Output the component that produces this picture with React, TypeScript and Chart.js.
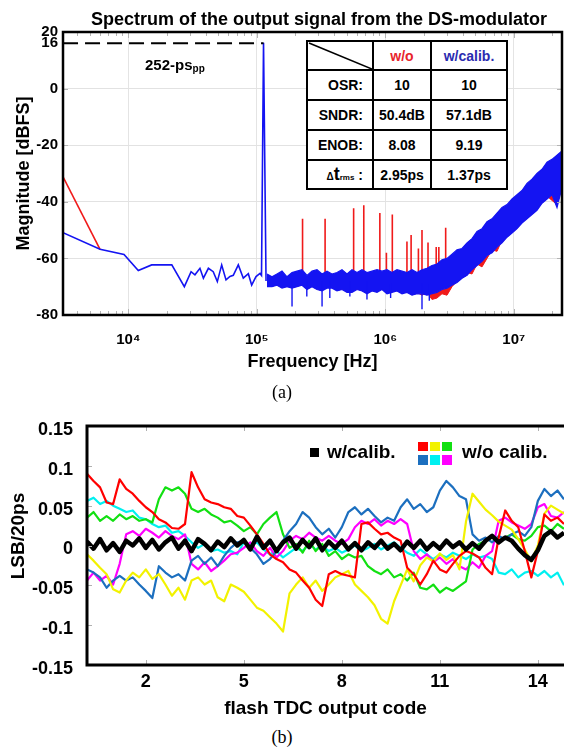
import React, { useEffect, useRef } from 'react';
import { Chart, registerables } from 'chart.js';

Chart.register(...registerables);

const SANS = '"Liberation Sans", Arial, Helvetica, sans-serif';
const SERIF = '"Liberation Serif", "Times New Roman", serif';

// ================= (a) spectrum data =================
const spectrumTitle = 'Spectrum of the output signal from the DS-modulator';
const xTicksTop = [1e4, 1e5, 1e6, 1e7];
const yTicksTop = [-80, -60, -40, -20, 0, 16, 20];
const minorDecades = [1e3, 1e4, 1e5, 1e6, 1e7];

// low-frequency part + fundamental (w/ calib.)
const lowFreq = [3105, 6026, 9260, 11960, 15200, 21800, 27300, 30800, 33000, 36100, 38400, 42000, 45800, 49300, 53300, 57600, 61800, 65600, 71800, 78500, 85900, 91200, 98600, 105900, 108800, 112800, 118000];
const lowBlue = [-50.9, -56.8, -58.6, -64.3, -62.3, -62.3, -70.0, -64.7, -65.8, -63.5, -67.0, -63.5, -64.7, -68.2, -62.3, -67.6, -66.4, -66.0, -62.3, -67.0, -65.4, -69.4, -66.4, -65.3, -66.0, 16.2, -68.0];
// low-frequency part (w/o calib.)
const redLowFreq = [3105, 6026];
const redLowVal = [-31.2, -56.8];

// noise floor band above the fundamental
const bandFreq = [120000, 131300, 143600, 157100, 171800, 187900, 205500, 224800, 245800, 268900,
  294100, 321700, 351800, 384800, 420900, 460300, 503500, 550700, 602400, 658900,
  720600, 788200, 862100, 942500, 1031000, 1127000, 1233000, 1349000, 1475000, 1614000,
  1765000, 1930000, 2111000, 2309000, 2526000, 2762000, 3021000, 3305000, 3614000, 3954000,
  4324000, 4729000, 5172000, 5657000, 6187000, 6767000, 7403000, 8095000, 8854000, 9683000,
  10590000, 11580000, 12670000, 13860000, 15150000, 16580000, 18130000, 19830000, 21690000, 23720000];
const blueHi = [-65.5, -66.5, -65.5, -64.5, -66.5, -65, -64.5, -64, -66, -64.5,
  -64, -65.5, -64.5, -65.5, -65, -64, -65.5, -64, -65, -64,
  -65, -64.5, -64, -64.5, -64, -65, -64, -64.5, -65, -64,
  -65, -64, -63.5, -62.5, -62, -60.5, -60, -58.5, -57, -56.5,
  -54.5, -53, -50.5, -49.5, -47, -46, -44, -42, -41, -39,
  -37.5, -36, -33.5, -32, -30, -28.5, -26, -25, -23.5, -22];
const blueLo = [-70, -70, -69.5, -70.5, -70, -70.5, -70, -69.5, -71, -70,
  -71, -71.5, -70.5, -70.5, -71.5, -71, -72, -72, -71, -71.5,
  -72.5, -71.5, -72, -71, -72.5, -72, -71.5, -72.5, -72, -73,
  -72.5, -72.5, -73, -72.5, -72, -71, -70.5, -69.5, -68.5, -67,
  -66, -64, -62.5, -61, -59, -58, -56, -54.5, -52.5, -51,
  -49.5, -47.5, -46, -44.5, -43, -40.5, -39, -37.5, -42, -35];
const redLo = [-69.5, -69.5, -69, -70, -69.5, -70, -69.5, -69, -70.5, -69.5,
  -70.5, -71, -70, -70, -71, -70.5, -71.5, -71.5, -70.5, -71,
  -72, -71, -71.5, -70.5, -72, -71.5, -71, -72, -71.5, -72.5,
  -72, -73, -72, -74.5, -74, -72.5, -73, -70, -68, -66,
  -65, -65.5, -62, -63, -60, -57, -57.5, -53.5, -51.5, -50,
  -48.5, -46.5, -45, -43.5, -42, -39.5, -38, -39.5, -41, -34];

// isolated downward noise spikes (w/ calib.)
const blueSpikeFreq = [188000, 245000, 322000, 370000, 530000, 720000, 1100000, 1930000, 2200000];
const blueSpikeTop = [-68, -68, -68, -68, -68, -68, -69, -69, -69];
const blueSpikeLow = [-77, -73.5, -77, -74, -73.5, -74.5, -74, -78, -75];

// harmonic spurs (w/o calib.)
const spurFreq = [227000, 340000, 567000, 680000, 907000, 1020000, 1134000, 1474000, 1588000, 1810000, 1930000, 2150000, 2490000, 2610000, 2950000, 3630000, 3970000];
const spurTop = [-46, -46, -42.3, -41.2, -44, -58, -44.5, -54, -51.7, -56.5, -50, -54.4, -56, -56, -49.2, -57, -58];
const spurBase = [-68, -68, -68, -68, -68, -68, -68, -68, -68, -68, -68, -68, -67, -67, -66, -63, -62];

// 252-ps pp marker level
const markerFreq = [3105, 112800];
const markerLevel = 16;

const tableLabels = ['OSR:', 'SNDR:', 'ENOB:'];
const tableWo = ['10', '50.4dB', '8.08', '2.95ps'];
const tableCal = ['10', '57.1dB', '9.19', '1.37ps'];

// ================= (b) TDC nonlinearity data =================
const xTicksBottom = [2, 5, 8, 11, 14];
const yTicksBottom = [-0.15, -0.1, -0.05, 0, 0.05, 0.1, 0.15];
const codes = [0.2, 0.4, 0.6, 0.8, 1.0, 1.2, 1.4, 1.6, 1.8, 2.0,
  2.2, 2.4, 2.6, 2.8, 3.0, 3.2, 3.4, 3.6, 3.8, 4.0,
  4.2, 4.4, 4.6, 4.8, 5.0, 5.2, 5.4, 5.6, 5.8, 6.0,
  6.2, 6.4, 6.6, 6.8, 7.0, 7.2, 7.4, 7.6, 7.8, 8.0,
  8.2, 8.4, 8.6, 8.8, 9.0, 9.2, 9.4, 9.6, 9.8, 10.0,
  10.2, 10.4, 10.6, 10.8, 11.0, 11.2, 11.4, 11.6, 11.8, 12.0,
  12.2, 12.4, 12.6, 12.8, 13.0, 13.2, 13.4, 13.6, 13.8, 14.0,
  14.2, 14.4, 14.6, 14.8];
const wCalib = [0.005, -0.004, 0.008, -0.006, 0.003, -0.008, 0.006, 0.000, 0.009, -0.003,
  0.007, -0.005, 0.004, 0.010, -0.004, 0.006, -0.007, 0.008, 0.002, -0.006,
  0.005, -0.002, 0.009, 0.000, 0.007, -0.005, 0.011, -0.003, 0.006, -0.007,
  0.004, 0.010, -0.004, 0.007, -0.002, 0.009, -0.006, 0.005, -0.003, 0.006,
  -0.005, 0.003, -0.006, 0.004, -0.003, 0.006, -0.004, 0.002, -0.006, 0.005,
  -0.003, 0.006, -0.005, 0.003, -0.004, 0.006, -0.002, 0.004, -0.005, 0.003,
  -0.004, 0.006, 0.012, 0.004, 0.010, 0.006, -0.004, -0.012, -0.018, -0.006,
  0.012, 0.018, 0.010, 0.016];
const woRed = [0.090, 0.081, 0.073, 0.054, 0.052, 0.083, 0.071, 0.065, 0.056, 0.048,
  0.042, 0.033, 0.029, 0.022, 0.021, 0.027, 0.092, 0.073, 0.058, 0.054,
  0.052, 0.048, 0.046, 0.037, 0.035, 0.025, 0.014, 0.002, -0.011, -0.017,
  -0.021, -0.030, -0.034, -0.044, -0.053, -0.068, -0.076, -0.036, -0.032, -0.036,
  -0.038, -0.040, 0.027, 0.029, 0.021, 0.014, 0.016, 0.010, 0.006, -0.028,
  -0.036, -0.049, -0.036, -0.019, -0.030, -0.034, -0.023, -0.013, -0.007, -0.010,
  -0.015, -0.028, -0.036, 0.010, 0.044, 0.031, 0.023, -0.007, -0.040, -0.007,
  0.039, 0.031, 0.035, 0.027];
const woGreen = [0.035, 0.042, 0.031, 0.037, 0.031, 0.039, 0.033, 0.037, 0.031, 0.033,
  0.029, 0.058, 0.073, 0.069, 0.073, 0.065, 0.046, 0.042, 0.046, 0.039,
  0.035, 0.029, 0.031, 0.025, 0.018, 0.023, 0.014, 0.027, 0.035, 0.042,
  0.014, -0.003, 0.002, -0.009, 0.006, -0.007, 0.002, -0.013, -0.007, -0.017,
  -0.011, -0.015, -0.013, -0.026, -0.032, -0.036, -0.030, -0.040, -0.036, -0.044,
  -0.034, -0.053, -0.055, -0.049, -0.059, -0.053, -0.057, -0.051, -0.045, -0.005,
  0.002, 0.006, 0.010, 0.006, 0.010, 0.014, 0.008, 0.006, 0.012, 0.023,
  0.025, 0.018, 0.027, 0.021];
const woCyan = [0.056, 0.060, 0.052, 0.056, 0.050, 0.046, 0.042, 0.044, 0.035, 0.033,
  0.027, 0.023, 0.025, 0.016, 0.018, 0.012, 0.004, -0.003, 0.002, -0.007,
  -0.005, -0.009, -0.007, -0.011, 0.004, 0.000, 0.004, -0.005, -0.011, -0.007,
  -0.015, -0.009, -0.003, -0.007, 0.002, -0.005, 0.000, -0.007, -0.003, -0.009,
  -0.005, 0.000, -0.007, -0.003, 0.002, -0.005, 0.000, 0.004, -0.003, -0.009,
  -0.013, -0.005, -0.011, -0.017, -0.011, -0.015, -0.009, -0.013, -0.017, -0.011,
  -0.015, -0.013, -0.017, -0.034, -0.036, -0.030, -0.040, -0.034, -0.032, -0.038,
  -0.032, -0.040, -0.034, -0.050];
const woMagenta = [-0.044, -0.034, -0.044, -0.038, -0.049, -0.023, 0.014, 0.018, 0.012, 0.021,
  0.016, 0.010, 0.018, 0.012, 0.008, 0.014, -0.023, -0.030, -0.021, -0.032,
  -0.026, -0.019, -0.011, -0.009, -0.003, 0.004, -0.007, -0.013, -0.003, -0.015,
  -0.007, 0.006, 0.012, 0.008, 0.016, 0.010, 0.006, 0.012, 0.006, 0.002,
  0.008, 0.023, 0.031, 0.027, 0.033, 0.025, 0.031, 0.027, 0.033, 0.027,
  -0.007, -0.017, -0.011, -0.021, -0.015, -0.023, -0.017, -0.026, -0.030, -0.021,
  -0.028, -0.013, -0.007, 0.031, 0.035, 0.029, 0.025, 0.021, 0.027, 0.048,
  0.052, 0.037, 0.035, 0.042];
const woBlue = [-0.030, -0.034, -0.040, -0.053, -0.044, -0.038, -0.044, -0.040, -0.049, -0.057,
  -0.066, -0.026, -0.034, -0.040, -0.036, -0.044, -0.019, -0.013, -0.023, -0.015,
  -0.026, -0.013, -0.003, 0.004, 0.006, -0.003, -0.011, -0.023, -0.017, -0.007,
  0.006, 0.018, 0.027, 0.042, 0.035, 0.023, 0.014, 0.021, 0.010, 0.023,
  0.042, 0.048, 0.039, 0.046, 0.037, 0.029, 0.035, 0.031, 0.048, 0.058,
  0.046, 0.052, 0.042, 0.048, 0.069, 0.081, 0.073, 0.062, 0.058, 0.014,
  0.006, 0.010, 0.004, 0.012, 0.008, 0.014, 0.018, 0.012, 0.023, 0.056,
  0.071, 0.062, 0.069, 0.058];
const woYellow = [-0.011, -0.019, -0.028, -0.036, -0.055, -0.059, -0.044, -0.034, -0.040, -0.030,
  -0.042, -0.036, -0.049, -0.063, -0.053, -0.068, -0.044, -0.040, -0.049, -0.044,
  -0.065, -0.070, -0.049, -0.053, -0.058, -0.068, -0.078, -0.082, -0.090, -0.098,
  -0.108, -0.060, -0.049, -0.040, -0.053, -0.044, -0.057, -0.049, -0.040, -0.036,
  -0.032, -0.049, -0.057, -0.065, -0.075, -0.092, -0.098, -0.070, -0.050, -0.030,
  -0.045, -0.025, -0.015, -0.020, -0.010, -0.018, -0.012, -0.030, 0.030, 0.065,
  0.055, 0.045, 0.038, 0.030, 0.025, 0.020, 0.008, -0.005, -0.020, 0.000,
  0.040, 0.050, 0.045, 0.040];

// series styling (index 0 is drawn on top)
const bottomSeries = [
  { label: 'w/calib.', values: wCalib, color: '#000000', width: 4.5 },
  { label: 'w/o calib. #1', values: woRed, color: '#ff0000', width: 2.2 },
  { label: 'w/o calib. #2', values: woYellow, color: '#f2f200', width: 2.2 },
  { label: 'w/o calib. #4', values: woBlue, color: '#1c6fbf', width: 2.2 },
  { label: 'w/o calib. #3', values: woGreen, color: '#12e012', width: 2.2 },
  { label: 'w/o calib. #6', values: woMagenta, color: '#ff00ff', width: 2.2 },
  { label: 'w/o calib. #5', values: woCyan, color: '#00f0f0', width: 2.2 },
];
const legendColors = ['#ff0000', '#f2f200', '#12e012', '#1c6fbf', '#00f0f0', '#ff00ff'];

const SUP = ['\u2070', '\u00b9', '\u00b2', '\u00b3', '\u2074', '\u2075', '\u2076', '\u2077', '\u2078', '\u2079'];
function powLabel(v: number) {
  const e = Math.round(Math.log10(v));
  return '10' + String(e).split('').map((d) => SUP[Number(d)]).join('');
}

const BLUE = '#1414f2';
const RED = '#f01a1a';

const topFrame = {
  id: 'topFrame',
  afterDraw(chart: any) {
    const { ctx, chartArea: a, scales } = chart;
    const x = scales.x;
    const y = scales.y;
    ctx.save();
    ctx.strokeStyle = '#b4b4b4';
    ctx.lineWidth = 1;
    ctx.beginPath();
    minorDecades.forEach((d) => {
      for (let m = 1; m <= 9; m++) {
        const f = d * m;
        if (f < x.min || f > x.max) continue;
        const px = Math.round(x.getPixelForValue(f)) + 0.5;
        const len = m === 1 ? 6 : 4;
        ctx.moveTo(px, a.bottom);
        ctx.lineTo(px, a.bottom - len);
        ctx.moveTo(px, a.top);
        ctx.lineTo(px, a.top + len);
      }
    });
    yTicksTop.forEach((v) => {
      if (v === 16) return;
      const py = Math.round(y.getPixelForValue(v)) + 0.5;
      ctx.moveTo(a.left, py);
      ctx.lineTo(a.left + 5, py);
      ctx.moveTo(a.right, py);
      ctx.lineTo(a.right - 5, py);
    });
    ctx.stroke();
    ctx.strokeStyle = '#000';
    ctx.lineWidth = 2.5;
    ctx.strokeRect(a.left, a.top, a.right - a.left, a.bottom - a.top);
    ctx.restore();
  },
};

const bottomFrame = {
  id: 'bottomFrame',
  afterDraw(chart: any) {
    const { ctx, chartArea: a, scales } = chart;
    const x = scales.x;
    const y = scales.y;
    ctx.save();
    ctx.strokeStyle = '#b0b0b0';
    ctx.lineWidth = 1;
    ctx.beginPath();
    xTicksBottom.forEach((v) => {
      const px = Math.round(x.getPixelForValue(v)) + 0.5;
      ctx.moveTo(px, a.bottom);
      ctx.lineTo(px, a.bottom - 5);
      ctx.moveTo(px, a.top);
      ctx.lineTo(px, a.top + 5);
    });
    yTicksBottom.forEach((v) => {
      const py = Math.round(y.getPixelForValue(v)) + 0.5;
      ctx.moveTo(a.left, py);
      ctx.lineTo(a.left + 5, py);
    });
    ctx.stroke();
    ctx.strokeStyle = '#000';
    ctx.lineWidth = 3;
    ctx.beginPath();
    ctx.moveTo(a.right + 4, a.top);
    ctx.lineTo(a.left, a.top);
    ctx.lineTo(a.left, a.bottom);
    ctx.lineTo(a.right + 4, a.bottom);
    ctx.stroke();
    ctx.restore();
  },
};

function segments(freqs: number[], from: number[], to: number[]) {
  const pts: any[] = [];
  freqs.forEach((f, i) => {
    pts.push({ x: f, y: from[i] }, { x: f, y: to[i] }, { x: f, y: null });
  });
  return pts;
}

function topConfig(): any {
  const line = { pointRadius: 0, tension: 0, fill: false, spanGaps: false };
  return {
    type: 'line',
    data: {
      datasets: [
        { ...line, label: '252-ps pp', data: markerFreq.map((f) => ({ x: f, y: markerLevel })), borderColor: '#000', borderWidth: 2, borderDash: [15, 7] },
        { ...line, label: 'w/calib.', data: lowFreq.map((f, i) => ({ x: f, y: lowBlue[i] })), borderColor: BLUE, borderWidth: 1.6 },
        { ...line, label: 'w/calib. spikes', data: segments(blueSpikeFreq, blueSpikeTop, blueSpikeLow), borderColor: BLUE, borderWidth: 1.4 },
        { ...line, label: 'w/calib. upper', data: bandFreq.map((f, i) => ({ x: f, y: blueHi[i] })), borderColor: BLUE, borderWidth: 1.2 },
        { ...line, label: 'w/calib. lower', data: bandFreq.map((f, i) => ({ x: f, y: blueLo[i] })), borderColor: BLUE, borderWidth: 1.2, backgroundColor: BLUE, fill: '-1' },
        { ...line, label: 'w/o lower', data: bandFreq.map((f, i) => ({ x: f, y: redLo[i] })), borderColor: RED, borderWidth: 1, backgroundColor: RED, fill: '-1' },
        { ...line, label: 'w/o spurs', data: segments(spurFreq, spurBase, spurTop), borderColor: RED, borderWidth: 1.6 },
        { ...line, label: 'w/o', data: redLowFreq.map((f, i) => ({ x: f, y: redLowVal[i] })), borderColor: RED, borderWidth: 1.6 },
      ],
    },
    options: {
      animation: false,
      responsive: false,
      maintainAspectRatio: false,
      devicePixelRatio: 1,
      events: [],
      layout: { padding: { top: 32, right: 2, left: 0, bottom: 0 } },
      plugins: { legend: { display: false }, tooltip: { enabled: false }, title: { display: false } },
      scales: {
        x: {
          type: 'logarithmic',
          min: 3103,
          max: 23720000,
          afterBuildTicks: (s: any) => { s.ticks = xTicksTop.map((v) => ({ value: v, major: true })); },
          afterFit: (s: any) => { s.height = 65; },
          ticks: { callback: (v: any) => powLabel(Number(v)), font: { family: SANS, size: 15, weight: 'bold' }, color: '#000', padding: 16, autoSkip: false, maxRotation: 0 },
          grid: { color: '#e4e4e4', drawTicks: false, lineWidth: 1 },
          border: { display: false },
          title: { display: true, text: 'Frequency [Hz]', color: '#000', font: { family: SANS, size: 18, weight: 'bold' }, padding: { top: 0, bottom: 7 } },
        },
        y: {
          type: 'linear',
          min: -80,
          max: 20,
          afterBuildTicks: (s: any) => { s.ticks = yTicksTop.map((v) => ({ value: v })); },
          afterFit: (s: any) => { s.width = 63; },
          ticks: { font: { family: SANS, size: 15, weight: 'bold' }, color: '#000', padding: 5, autoSkip: false },
          grid: { color: (c: any) => ([-60, -40, -20, 0].includes(c.tick && c.tick.value) ? '#e2e2e2' : 'rgba(0,0,0,0)'), drawTicks: false },
          border: { display: false },
          title: { display: true, text: 'Magnitude [dBFS]', color: '#000', font: { family: SANS, size: 18, weight: 'bold' }, padding: { top: 13, bottom: 0 } },
        },
      },
    },
    plugins: [topFrame],
  };
}

function bottomConfig(): any {
  return {
    type: 'line',
    data: {
      datasets: bottomSeries.map((s) => ({
        label: s.label,
        data: codes.map((c, i) => ({ x: c, y: s.values[i] })),
        borderColor: s.color,
        backgroundColor: s.color,
        borderWidth: s.width,
        pointRadius: 0,
        tension: 0,
        fill: false,
        borderJoinStyle: 'round',
      })),
    },
    options: {
      animation: false,
      responsive: false,
      maintainAspectRatio: false,
      devicePixelRatio: 1,
      events: [],
      layout: { padding: { top: 26, right: 0, left: 0, bottom: 0 } },
      plugins: { legend: { display: false }, tooltip: { enabled: false }, title: { display: false } },
      scales: {
        x: {
          type: 'linear',
          min: 0.2,
          max: 14.8,
          afterBuildTicks: (s: any) => { s.ticks = xTicksBottom.map((v) => ({ value: v })); },
          afterFit: (s: any) => { s.height = 55; },
          ticks: { font: { family: SANS, size: 18, weight: 'bold' }, color: '#000', padding: 6, autoSkip: false, maxRotation: 0 },
          grid: { display: false, drawTicks: false },
          border: { display: false },
          title: { display: true, text: 'flash TDC output code', color: '#000', font: { family: SANS, size: 19, weight: 'bold' }, padding: { top: 0, bottom: 0 } },
        },
        y: {
          type: 'linear',
          min: -0.15,
          max: 0.15,
          afterBuildTicks: (s: any) => { s.ticks = yTicksBottom.map((v) => ({ value: v })); },
          afterFit: (s: any) => { s.width = 87; },
          ticks: {
            font: { family: SANS, size: 18, weight: 'bold' },
            color: '#000',
            padding: 14,
            labelOffset: 4,
            autoSkip: false,
            callback: (v: any) => { const r = Math.round(Number(v) * 100) / 100; return r === 0 ? '0' : String(r); },
          },
          grid: { display: false, drawTicks: false },
          border: { display: false },
          title: { display: false },
        },
      },
    },
    plugins: [bottomFrame],
  };
}

const abs = (l: number, t: number, extra: any = {}) => ({ position: 'absolute' as const, left: l, top: t, ...extra });

function SpecTable() {
  const colX = [0, 66, 124];
  const colW = [66, 58, 74];
  const rowY = [0, 29, 59, 89, 119];
  const rowH = [29, 30, 30, 30, 27];
  const font = { fontFamily: SANS, fontWeight: 'bold' as const, fontSize: 14, color: '#000' };
  const cell = (r: number, c: number, content: any, align: string = 'center', extra: any = {}) => (
    <div
      key={r + '-' + c}
      style={{
        position: 'absolute', left: colX[c], top: rowY[r], width: colW[c], height: rowH[r],
        boxSizing: 'border-box', borderRight: c < 2 ? '2px solid #000' : 'none', borderBottom: r < 4 ? '2px solid #000' : 'none',
        display: 'flex', alignItems: 'center', justifyContent: align, paddingRight: align === 'flex-end' ? 9 : 0,
        whiteSpace: 'nowrap', ...font, ...extra,
      }}
    >
      {content}
    </div>
  );
  const cells: any[] = [];
  cells.push(cell(0, 0, (
    <svg width={64} height={27} style={{ position: 'absolute', left: 0, top: 0 }}>
      <line x1={1} y1={1} x2={64} y2={27} stroke="#000" strokeWidth={1.6} />
    </svg>
  )));
  cells.push(cell(0, 1, 'w/o', 'center', { color: '#e8242c' }));
  cells.push(cell(0, 2, 'w/calib.', 'center', { color: '#2b2bb0' }));
  tableLabels.forEach((lab, i) => {
    cells.push(cell(i + 1, 0, lab, 'flex-end'));
    cells.push(cell(i + 1, 1, tableWo[i]));
    cells.push(cell(i + 1, 2, tableCal[i]));
  });
  cells.push(cell(4, 0, (
    <span>
      <span style={{ fontSize: 10 }}>{'\u0394'}</span>
      <span style={{ fontSize: 18 }}>t</span>
      <span style={{ fontSize: 8 }}>rms</span>
      <span>{'\u00a0:'}</span>
    </span>
  ), 'flex-end'));
  cells.push(cell(4, 1, tableWo[3]));
  cells.push(cell(4, 2, tableCal[3]));
  return (
    <div style={abs(306, 40, { width: 202, height: 150, boxSizing: 'border-box', border: '2px solid #000', background: '#fff' })}>
      {cells}
    </div>
  );
}

export default function App() {
  const topRef = useRef<HTMLCanvasElement>(null);
  const botRef = useRef<HTMLCanvasElement>(null);

  useEffect(() => {
    const c1 = new Chart(topRef.current as HTMLCanvasElement, topConfig());
    const c2 = new Chart(botRef.current as HTMLCanvasElement, bottomConfig());
    return () => {
      c1.destroy();
      c2.destroy();
    };
  }, []);

  const bold = (size: number) => ({ fontFamily: SANS, fontWeight: 'bold' as const, fontSize: size, lineHeight: '20px', color: '#000', whiteSpace: 'nowrap' as const });

  return (
    <div style={{ position: 'absolute', left: 0, top: 0, width: 564, height: 751, background: '#fff', overflow: 'hidden' }}>
      <canvas ref={topRef} width={564} height={380} style={{ position: 'absolute', left: 0, top: 0 }} />
      <canvas ref={botRef} width={564} height={320} style={{ position: 'absolute', left: 0, top: 400 }} />

      <div style={abs(49, 9, { width: 540, textAlign: 'center', ...bold(18) })}>{spectrumTitle}</div>
      <div style={abs(145, 55, bold(15))}>
        252-ps<span style={{ fontSize: 10, position: 'relative', top: 2 }}>pp</span>
      </div>
      <SpecTable />
      <div style={abs(0, 382, { width: 564, textAlign: 'center', fontFamily: SERIF, fontSize: 18, lineHeight: '20px', color: '#000' })}>(a)</div>

      <div style={abs(17.5 - 60, 536 - 12, { width: 120, height: 24, textAlign: 'center', transform: 'rotate(-90deg)', ...bold(19), lineHeight: '24px' })}>LSB/20ps</div>
      <div style={abs(310, 448, { width: 9, height: 9, background: '#000' })} />
      <div style={abs(327, 442, bold(19))}>w/calib.</div>
      {legendColors.map((c, i) => (
        <div key={c} style={abs(418 + (i % 3) * 12, i < 3 ? 441.5 : 455, { width: 10, height: 9.5, background: c })} />
      ))}
      <div style={abs(462, 442, bold(19))}>w/o calib.</div>
      <div style={abs(0, 727, { width: 564, textAlign: 'center', fontFamily: SERIF, fontSize: 18, lineHeight: '20px', color: '#000' })}>(b)</div>
    </div>
  );
}
